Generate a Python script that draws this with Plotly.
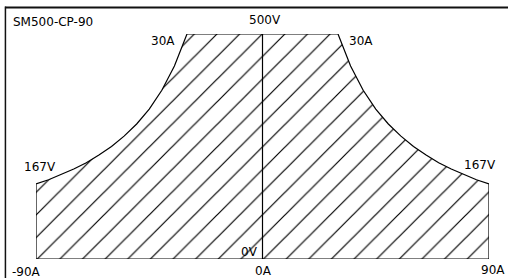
import plotly.graph_objects as go

# Operating envelope (current in A, voltage in V)
left_current = [-90, -85, -80, -75, -70, -65, -60, -55, -50, -45, -40, -35, -30]
left_voltage = [167, 176, 188, 200, 214, 231, 250, 273, 300, 333, 375, 429, 500]
right_current = [30, 35, 40, 45, 50, 55, 60, 65, 70, 75, 80, 85, 90]
right_voltage = [500, 429, 375, 333, 300, 273, 250, 231, 214, 200, 188, 176, 167]

title_text = "SM500-CP-90"
x_tick_labels = ["-90A", "0A", "90A"]

xs = [-90] + left_current + right_current + [90, -90]
ys = [0] + left_voltage + right_voltage + [0, 0]

FONT = dict(family="DejaVu Sans", size=12, color="#000")

fig = go.Figure()
fig.add_trace(go.Scatter(
    x=xs, y=ys, mode="lines", fill="toself",
    fillcolor="white",
    fillpattern=dict(shape="/", size=16, solidity=0.075, fgcolor="#000", fgopacity=1,
                     bgcolor="white", fillmode="replace"),
    line=dict(color="#000", width=1.2),
    hoverinfo="skip", showlegend=False,
))
# centre line at 0 A
fig.add_trace(go.Scatter(
    x=[0, 0], y=[0, 500], mode="lines",
    line=dict(color="#000", width=1.2), hoverinfo="skip", showlegend=False,
))

ann = [
    (title_text, -0.055, 1.055, "left"),
    ("500V", 0.5055, 1.06, "center"),
    ("30A", 0.311, 0.969, "right"),
    ("30A", 0.6865, 0.969, "left"),
    ("167V", 0.0088, 0.409, "center"),
    ("167V", 0.980, 0.418, "center"),
    ("0V", 0.4724, 0.033, "center"),
    (x_tick_labels[1], 0.503, -0.055, "center"),
    (x_tick_labels[0], -0.0199, -0.058, "center"),
    (x_tick_labels[2], 1.0088, -0.051, "center"),
]
annotations = [dict(text=t, x=x, y=y, xref="paper", yref="paper", xanchor=a, yanchor="middle",
                    showarrow=False, font=FONT) for t, x, y, a in ann]

shapes = [
    dict(type="line", xref="paper", yref="paper", x0=-0.068, x1=1.05, y0=1.118, y1=1.118,
         line=dict(color="#111", width=2)),
    dict(type="line", xref="paper", yref="paper", x0=-0.0675, x1=-0.0675, y0=1.122, y1=-0.1,
         line=dict(color="#111", width=1.5)),
]

fig.update_layout(
    width=508, height=278,
    margin=dict(l=36, r=19, t=34, b=19),
    paper_bgcolor="white", plot_bgcolor="white",
    xaxis=dict(range=[-90, 90], visible=False, fixedrange=True),
    yaxis=dict(range=[0, 500], visible=False, fixedrange=True),
    annotations=annotations, shapes=shapes, showlegend=False,
)
fig.write_html("out.html", config={"displayModeBar": False},
               post_script="document.body.style.margin='0';document.body.style.overflow='hidden';")
